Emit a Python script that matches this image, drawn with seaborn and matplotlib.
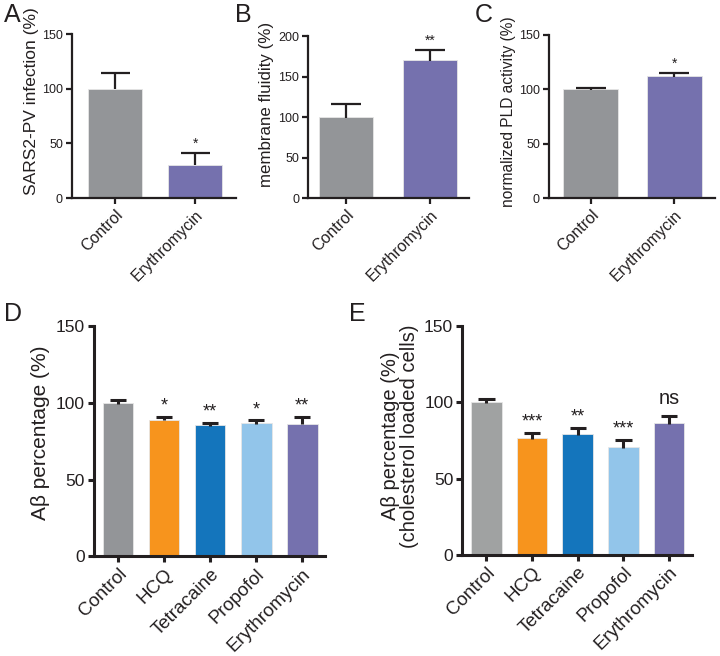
import matplotlib
matplotlib.use("Agg")
import matplotlib.pyplot as plt
import seaborn as sns
import pandas as pd
import numpy as np

# data
ab_groups = ["Control", "Erythromycin"]
infection = [100, 30.5]
infection_err = [14, 10.5]
fluidity = [100, 170]
fluidity_err = [16, 12.5]
pld = [100, 112]
pld_err = [1.2, 3.2]

drug_groups = ["Control", "HCQ", "Tetracaine", "Propofol", "Erythromycin"]
abeta = [100, 89, 85.5, 87, 86.5]
abeta_err = [2, 2, 1.5, 1.5, 4.5]
abeta_chol = [100, 76.5, 79, 70.5, 86.5]
abeta_chol_err = [2.3, 3.5, 4.5, 5, 4.3]

stars_a = ["", "*"]
stars_b = ["", "**"]
stars_c = ["", "*"]
stars_d = ["", "*", "**", "*", "**"]
stars_e = ["", "***", "**", "***", "ns"]

GRAY = "#939598"
PURPLE = "#7571ae"
ORANGE = "#f7941d"
BLUE = "#1475bc"
LIGHT = "#92c5ea"
INK = "#231f20"

sns.set_style("ticks")
plt.rcParams["font.family"] = ["Liberation Sans", "DejaVu Sans"]


def bar_panel(ax, groups, vals, errs, colors, stars, ylim, yticks, ylabel,
              xlim, width, ytick_fs, xtick_fs, label_fs, label_xy,
              star_fs, star_pad, lw):
    df = pd.DataFrame({"group": groups, "value": vals})
    sns.barplot(data=df, x="group", y="value", hue="group", palette=colors,
                legend=False, width=width, errorbar=None, saturation=1,
                ax=ax, edgecolor="#e6e6e6", linewidth=0.6)
    # upper-only error bars with a cap
    x = np.arange(len(groups))
    v = np.array(vals, dtype=float)
    top = v + np.array(errs, dtype=float)
    cw = width * 0.27
    ax.vlines(x, v - 0.5, top, color=INK, lw=lw, zorder=3)
    ax.hlines(top, x - cw, x + cw, color=INK, lw=lw, zorder=3)
    span = ylim[1] - ylim[0]
    for i, s in enumerate(stars):
        if not s:
            continue
        if s == "ns":
            ax.text(i, top[i] + span * 0.035, s, ha="center", va="bottom",
                    fontsize=star_fs * 1.1, color=INK)
        else:
            ax.text(i, top[i] + star_pad, s, ha="center", va="bottom",
                    fontsize=star_fs, color=INK)
    ax.set_xlim(*xlim)
    ax.set_ylim(*ylim)
    ax.set_yticks(yticks)
    ax.set_xlabel("")
    ax.set_ylabel(ylabel, fontsize=label_fs, color=INK, linespacing=1.0)
    ax.yaxis.set_label_coords(*label_xy)
    ax.tick_params(axis="both", width=lw, length=4.5, color=INK, pad=2,
                   labelcolor=INK)
    ax.tick_params(axis="y", labelsize=ytick_fs)
    ax.tick_params(axis="x", labelsize=xtick_fs)
    plt.setp(ax.get_xticklabels(), rotation=45, ha="right",
             rotation_mode="anchor")
    for sp in ["left", "bottom"]:
        ax.spines[sp].set_linewidth(lw)
        ax.spines[sp].set_color(INK)
    sns.despine(ax=ax)


fig = plt.figure(figsize=(7.2, 6.56), dpi=100)

axA = fig.add_axes([0.100, 0.698, 0.228, 0.250])
axB = fig.add_axes([0.428, 0.698, 0.224, 0.247])
axC = fig.add_axes([0.7625, 0.698, 0.231, 0.249])
axD = fig.add_axes([0.1306, 0.152, 0.321, 0.351])
axE = fig.add_axes([0.642, 0.154, 0.319, 0.349])

bar_panel(axA, ab_groups, infection, infection_err, [GRAY, PURPLE],
          stars_a, (0, 150), [0, 50, 100, 150], "SARS2-PV infection (%)",
          (-0.54, 1.51), 0.675, 9, 11.5, 12.5, (-0.20, 0.59), 10, 2, 1.6)
bar_panel(axB, ab_groups, fluidity, fluidity_err, [GRAY, PURPLE],
          stars_b, (0, 200), [0, 50, 100, 150, 200], "membrane fluidity (%)",
          (-0.45, 1.47), 0.65, 9, 11.5, 12.2, (-0.21, 0.58), 10, 3, 1.6)
bar_panel(axC, ab_groups, pld, pld_err, [GRAY, PURPLE],
          stars_c, (0, 150), [0, 50, 100, 150], "normalized PLD activity (%)",
          (-0.50, 1.49), 0.66, 9, 11.5, 11.2, (-0.20, 0.53), 10, 2, 1.6)
bar_panel(axD, drug_groups, abeta, abeta_err,
          [GRAY, ORANGE, BLUE, LIGHT, PURPLE], stars_d, (0, 150),
          [0, 50, 100, 150], "A\u03b2 percentage (%)", (-0.52, 4.5), 0.67,
          12.5, 13.5, 15, (-0.19, 0.535), 13, 1.5, 2.2)
bar_panel(axE, drug_groups, abeta_chol, abeta_chol_err,
          ["#a0a2a2", ORANGE, BLUE, LIGHT, PURPLE], stars_e, (0, 150),
          [0, 50, 100, 150],
          "A\u03b2 percentage (%)\n(cholesterol loaded cells)",
          (-0.53, 4.5), 0.67, 12.5, 13.5, 14.5, (-0.19, 0.52), 13, 1.5, 2.2)

for lab, x, y in [("A", 0.005, 0.995), ("B", 0.327, 0.995),
                  ("C", 0.660, 0.995), ("D", 0.005, 0.54),
                  ("E", 0.485, 0.54)]:
    fig.text(x, y, lab, fontsize=18, va="top", ha="left", color=INK)

fig.savefig("out.png", dpi=100)
